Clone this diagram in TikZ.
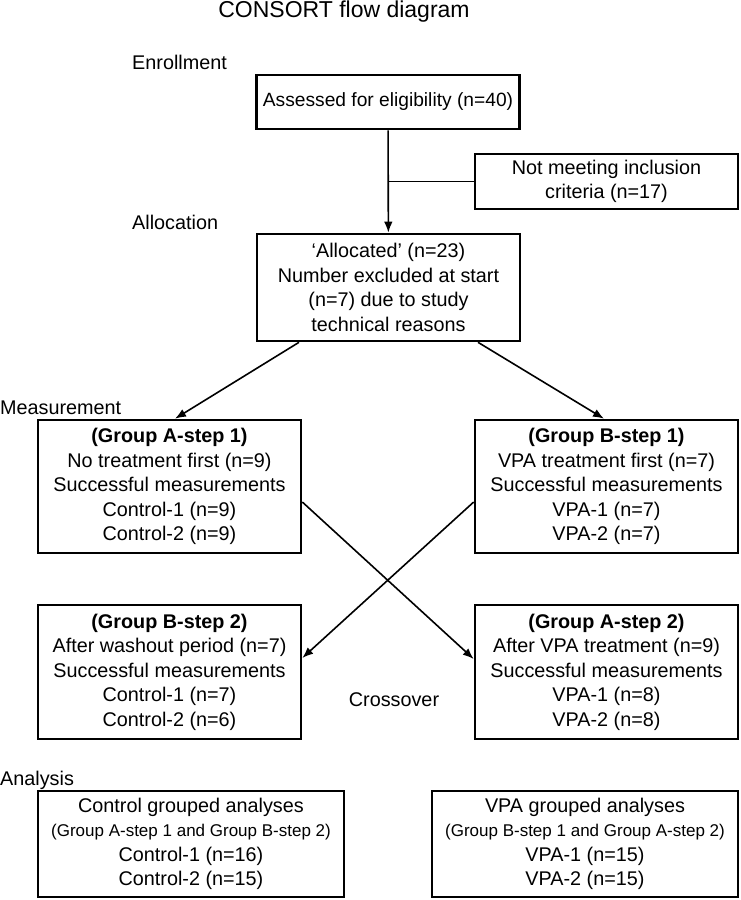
\documentclass[tikz,border=0pt]{standalone}
\usepackage{fontspec}
\setmainfont{Liberation Sans}
\usetikzlibrary{arrows.meta, positioning, calc}

\begin{document}
\begin{tikzpicture}[
    x=1pt, y=-1pt,
    box/.style={rectangle, draw=black, line width=2.6pt, minimum width=263pt, align=center, inner sep=2pt, font=\fontsize{19.8}{24.5}\selectfont},
    stage/.style={anchor=west, inner sep=0pt, font=\fontsize{19.8}{24}\selectfont},
    arrow/.style={-{Latex[length=11pt,width=8.5pt]}, line width=1.6pt}
]
    \useasboundingbox (0,0) rectangle (740,900);

    \node[font=\fontsize{23}{27}\selectfont, anchor=base] (title) at (344,17) {CONSORT flow diagram};

    % stage labels
    \node[stage] (enrol) at (132,62) {Enrollment};
    \node[stage] (allocl) at (132,222) {Allocation};
    \node[stage] (meas) at (0,408) {Measurement};
    \node[stage] (anal) at (0,780) {Analysis};
    \node[font=\fontsize{19.8}{24}\selectfont] (cross) at (394,700) {Crossover};

    % boxes
    \node[box, minimum height=54pt, inner xsep=0pt, font=\fontsize{19.2}{24.5}\selectfont] (assess) at (388,102) {Assessed for eligibility (n=40)};
    \node[box, minimum height=55pt] (excl) at (606.5,181.5) {Not meeting inclusion\\criteria (n=17)};
    \node[box, minimum height=107pt] (alloc) at (388.5,287.5) {‘Allocated’ (n=23)\\Number excluded at start\\(n=7) due to study\\technical reasons};
    \node[box, minimum height=133pt] (grpAone) at (169.5,486.5) {\textbf{(Group A-step 1)}\\No treatment first (n=9)\\Successful measurements\\Control-1 (n=9)\\Control-2 (n=9)};
    \node[box, minimum height=133pt] (grpBone) at (606.5,486.5) {\textbf{(Group B-step 1)}\\VPA treatment first (n=7)\\Successful measurements\\VPA-1 (n=7)\\VPA-2 (n=7)};
    \node[box, minimum height=134pt] (grpBtwo) at (169.5,672) {\textbf{(Group B-step 2)}\\After washout period (n=7)\\Successful measurements\\Control-1 (n=7)\\Control-2 (n=6)};
    \node[box, minimum height=134pt] (grpAtwo) at (606.5,672) {\textbf{(Group A-step 2)}\\After VPA treatment (n=9)\\Successful measurements\\VPA-1 (n=8)\\VPA-2 (n=8)};
    \node[box, minimum width=306pt, minimum height=106pt] (ctrl) at (191,844) {Control grouped analyses\\{\fontsize{17}{24.5}\selectfont (Group A-step 1 and Group B-step 2)}\\Control-1 (n=16)\\Control-2 (n=15)};
    \node[box, minimum width=306pt, minimum height=106pt] (vpa) at (585,844) {VPA grouped analyses\\{\fontsize{17}{24.5}\selectfont (Group B-step 1 and Group A-step 2)}\\VPA-1 (n=15)\\VPA-2 (n=15)};

    % connectors
    \draw[arrow] (assess) -- (alloc);
    \draw[line width=1.6pt] (excl.west) -- (excl.west -| assess);
    \draw[arrow] ([xshift=-89.5pt]alloc.south) -- ([xshift=5.5pt]grpAone.north);
    \draw[arrow] ([xshift=89.5pt]alloc.south) -- ([xshift=-2.5pt]grpBone.north);
    \draw[arrow] ([yshift=-15.5pt]grpAone.east) -- ([yshift=13pt]grpAtwo.west);
    \draw[arrow] ([yshift=-15.5pt]grpBone.west) -- ([yshift=14pt]grpBtwo.east);
\end{tikzpicture}
\end{document}
